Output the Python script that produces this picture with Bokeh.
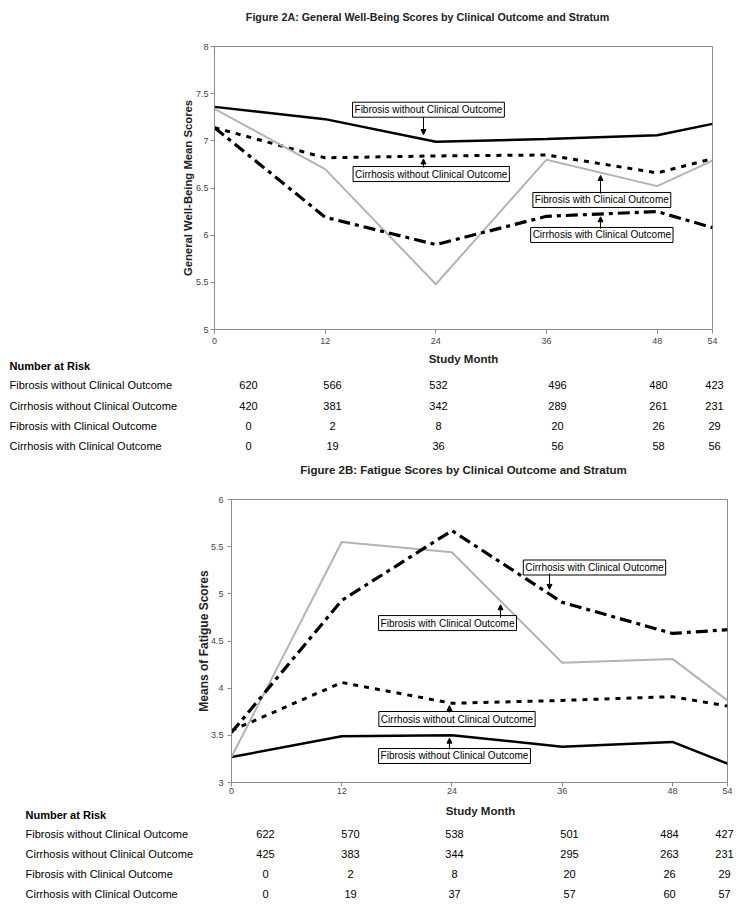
from bokeh.plotting import figure
from bokeh.models import Range1d, FixedTicker, NumeralTickFormatter, Label, Arrow, NormalHead
from bokeh.core.properties import value
from bokeh.embed import file_html
from bokeh.resources import INLINE
import numpy as np

FONT = "Liberation Sans"
W = 745

# ---------------- data ----------------
months = [0, 12, 24, 36, 48, 54]
series_names = ["Fibrosis without Clinical Outcome",
                "Cirrhosis without Clinical Outcome",
                "Fibrosis with Clinical Outcome",
                "Cirrhosis with Clinical Outcome"]

# Figure 2A: General Well-Being mean scores
gwb_fib_without = [7.36, 7.23, 6.99, 7.02, 7.06, 7.18]
gwb_cir_without = [7.14, 6.82, 6.84, 6.85, 6.66, 6.81]
gwb_fib_with = [7.34, 6.70, 5.48, 6.80, 6.52, 6.79]
gwb_cir_with = [7.14, 6.19, 5.90, 6.20, 6.25, 6.08]

# Figure 2B: Fatigue mean scores
fat_fib_without = [3.27, 3.49, 3.50, 3.38, 3.43, 3.20]
fat_cir_without = [3.55, 4.06, 3.84, 3.87, 3.91, 3.81]
fat_fib_with = [3.27, 5.55, 5.44, 4.27, 4.31, 3.87]
fat_cir_with = [3.53, 4.93, 5.67, 4.91, 4.58, 4.62]

# Number at risk tables
risk_a_fib_without = [620, 566, 532, 496, 480, 423]
risk_a_cir_without = [420, 381, 342, 289, 261, 231]
risk_a_fib_with = [0, 2, 8, 20, 26, 29]
risk_a_cir_with = [0, 19, 36, 56, 58, 56]

risk_b_fib_without = [622, 570, 538, 501, 484, 427]
risk_b_cir_without = [425, 383, 344, 295, 263, 231]
risk_b_fib_with = [0, 2, 8, 20, 26, 29]
risk_b_cir_with = [0, 19, 37, 57, 60, 57]

x_ticks = [0, 12, 24, 36, 48, 54]
yticks_a = [5, 5.5, 6, 6.5, 7, 7.5, 8]
yticks_b = [3, 3.5, 4, 4.5, 5, 5.5, 6]

title_a = "Figure 2A: General Well-Being Scores by Clinical Outcome and Stratum"
title_b = "Figure 2B: Fatigue Scores by Clinical Outcome and Stratum"
x_label = "Study Month"
table_header = "Number at Risk"

# ---------------- styles ----------------
styles = [
    dict(line_color="black", line_width=2.5),
    dict(line_color="black", line_width=3, line_dash="5 6"),
    dict(line_color="#b4b4b4", line_width=2),
    dict(line_color="black", line_width=3.2, line_dash="12 5 4 5"),
]


def text_fig(y0, y1):
    """A figure whose frame is the whole canvas; data units = page pixels."""
    p = figure(width=W, height=y1 - y0, x_range=Range1d(0, W), y_range=Range1d(y1, y0),
               output_backend="svg", toolbar_location=None, min_border=0,
               x_axis_location=None, y_axis_location=None)
    p.grid.visible = False
    p.outline_line_color = None
    p.background_fill_color = "white"
    p.border_fill_color = "white"
    return p


def put(p, xs, ys, texts, align="left", bold=False, size="11px", color="black"):
    p.text(x=xs, y=ys, text=texts, text_align=align, text_baseline="middle",
           text_font=value(FONT), text_font_size=value(size), text_color=color,
           text_font_style="bold" if bold else "normal")


def chart(cfg):
    fl, ft, fr, fb = cfg["frame"]
    y0, y1 = cfg["span"]
    p = figure(width=W, height=y1 - y0,
               x_range=Range1d(0, 54), y_range=Range1d(*cfg["yr"]),
               output_backend="svg", toolbar_location=None,
               min_border_left=fl, min_border_right=W - fr,
               min_border_top=ft - y0, min_border_bottom=y1 - fb)
    p.grid.visible = False
    p.outline_line_color = "#8c8c8c"
    p.outline_line_width = 1
    p.background_fill_color = "white"
    p.border_fill_color = "white"

    for ax in (p.xaxis[0], p.yaxis[0]):
        ax.axis_line_color = "#8c8c8c"
        ax.major_tick_line_color = "#8c8c8c"
        ax.minor_tick_line_color = None
        ax.major_tick_out = 4
        ax.major_tick_in = 0
        ax.major_label_text_font = FONT
        ax.major_label_text_font_size = "9px"
        ax.major_label_text_color = "#444444"
        ax.axis_label_text_font = FONT
        ax.axis_label_text_font_style = "bold"
        ax.axis_label_text_color = "#222222"

    p.xaxis.ticker = FixedTicker(ticks=x_ticks)
    p.xaxis.major_label_standoff = cfg["xstand"]

    p.yaxis.ticker = FixedTicker(ticks=cfg["yticks"])
    p.yaxis.formatter = NumeralTickFormatter(format="0.[0]")
    p.yaxis.axis_label = cfg["ylabel"]
    p.yaxis.axis_label_text_font_size = cfg["ylab_size"]
    p.yaxis.major_label_standoff = cfg["ystand"]
    p.yaxis.axis_label_standoff = cfg["ylab_standoff"]

    for ys, st in zip(cfg["series"], styles):
        p.line(months, ys, **st)

    # boxed callouts with arrows pointing at the series
    for (idx, bx, by, ax_, ay, gap) in cfg["notes"]:
        ys = cfg["series"][idx]
        p.add_layout(Label(x=bx, y=by, text=series_names[idx],
                           text_align="center", text_baseline="middle",
                           text_font=FONT, text_font_size="10px", text_color="black",
                           background_fill_color="white", border_line_color="black",
                           border_line_width=1, padding=2))
        yend = float(np.interp(ax_, months, ys)) + gap
        p.add_layout(Arrow(x_start=ax_, y_start=ay, x_end=ax_, y_end=yend,
                           line_color="black", line_width=1,
                           end=NormalHead(size=5, fill_color="black", line_color="black")))
    return p


def table(p, t, risk):
    put(p, [t["left"]], [t["header_y"]], [table_header], bold=True)
    put(p, [t["left"]] * len(series_names), t["rows_y"], series_names)
    for row, ry in zip(risk, t["rows_y"]):
        put(p, t["cols_x"], [ry] * len(row), [str(v) for v in row], align="center")


# ---------------- panel A ----------------
head_a = text_fig(0, 34)
put(head_a, [427], [16], [title_a], align="center", bold=True, size="10.7px", color="#222222")

chart_a = chart(dict(
    span=(34, 350), frame=(214, 46, 712, 329), yr=(5, 8), yticks=yticks_a,
    ylabel="General Well-Being Mean Scores", ylab_size="11.3px",
    ylab_standoff=-1, ystand=2, xstand=4,
    series=[gwb_fib_without, gwb_cir_without, gwb_fib_with, gwb_cir_with],
    notes=[(0, 23.2, 7.33, 22.66, 7.25, 0.05),
           (1, 23.5, 6.648, 22.66, 6.717, -0.03),
           (2, 42.0, 6.373, 41.86, 6.44, -0.03),
           (3, 42.0, 6.002, 41.86, 6.07, -0.03)],
))

mid = text_fig(350, 487)
put(mid, [463], [358], [x_label], align="center", bold=True, size="11.5px", color="#222222")
table(mid, dict(left=9, header_y=365, rows_y=[384, 405, 425, 445],
                cols_x=[248, 332, 438, 557, 658, 714]),
      [risk_a_fib_without, risk_a_cir_without, risk_a_fib_with, risk_a_cir_with])
put(mid, [463], [469], [title_b], align="center", bold=True, size="11.5px", color="#222222")

# ---------------- panel B ----------------
chart_b = chart(dict(
    span=(487, 800), frame=(231, 499, 727, 782), yr=(3, 6), yticks=yticks_b,
    ylabel="Means of Fatigue Scores", ylab_size="12px",
    ylab_standoff=-3, ystand=4, xstand=1,
    series=[fat_fib_without, fat_cir_without, fat_fib_with, fat_cir_with],
    notes=[(3, 39.52, 5.279, 34.62, 5.215, 0.05),
           (2, 23.52, 4.69, 29.29, 4.749, -0.04),
           (1, 24.55, 3.673, 23.73, 3.742, -0.03),
           (0, 24.28, 3.281, 23.73, 3.35, -0.03)],
))

foot = text_fig(800, 904)
put(foot, [480], [810], [x_label], align="center", bold=True, size="11.5px", color="#222222")
table(foot, dict(left=25, header_y=814, rows_y=[833, 853, 873, 893],
                 cols_x=[265, 350, 454, 569, 669, 724]),
      [risk_b_fib_without, risk_b_cir_without, risk_b_fib_with, risk_b_cir_with])

roots = [head_a, chart_a, mid, chart_b, foot]
open("out.html", "w").write(file_html(roots, INLINE))
